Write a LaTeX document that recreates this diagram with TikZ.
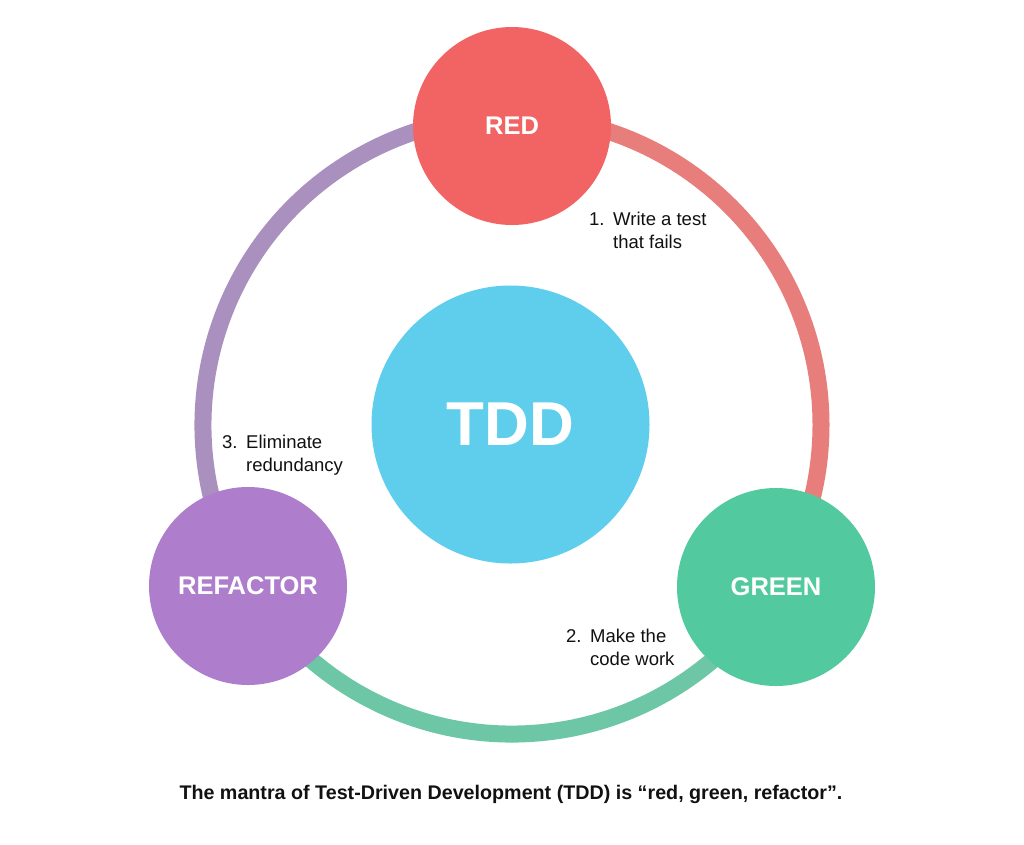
\documentclass[tikz,border=0pt]{standalone}
\usepackage{fontspec}
\setmainfont{Liberation Sans}
\usetikzlibrary{calc}
\definecolor{redfill}{HTML}{F26464}
\definecolor{redring}{HTML}{E87E7C}
\definecolor{greenfill}{HTML}{52C99E}
\definecolor{greenring}{HTML}{6DC7A6}
\definecolor{purplefill}{HTML}{AE7ECC}
\definecolor{purplering}{HTML}{A990BE}
\definecolor{cyanfill}{HTML}{5ECEEC}
\definecolor{txt}{HTML}{111111}
\tikzset{
  phase/.style={circle, minimum size=198pt, inner sep=0pt, text=white,
    font=\fontsize{25.5}{30}\selectfont\bfseries},
  core/.style={circle, minimum size=278pt, inner sep=0pt, fill=cyanfill, text=white,
    font=\fontsize{62}{70}\selectfont\bfseries},
  ring/.style={line width=17pt},
  steplabel/.style={anchor=base west, inner sep=0pt, text=txt,
    font=\fontsize{18.5}{23.5}\selectfont},
}
\newcommand{\numitem}[3]{\begin{tabular}[t]{@{}p{24pt}@{}l@{}}#1&#2\\&#3\end{tabular}}
\begin{document}
\begin{tikzpicture}[x=1pt,y=-1pt]
\useasboundingbox[fill=white] (0,0) rectangle (1024,844);
\coordinate (c) at (512,425);
% ring arcs
\draw[ring, redring] ($(c)+(0,-309)$) arc[start angle=90, end angle=-30, radius=309, y radius=-309];
\draw[ring, greenring] ($(c)+(267.6,154.5)$) arc[start angle=-30, end angle=-150, radius=309, y radius=-309];
\draw[ring, purplering] ($(c)+(-267.6,154.5)$) arc[start angle=210, end angle=90, radius=309, y radius=-309];
% circles
\node[phase, fill=redfill] (red) at (512,126) {RED};
\node[phase, fill=greenfill] (green) at (776,587) {GREEN};
\node[phase, fill=purplefill] (refactor) at (248,586) {REFACTOR};
\node[core] (tdd) at (510.5,424.5) {TDD};
% labels
\node[steplabel] (l1) at (589,225) {\numitem{1.}{Write a test}{that fails}};
\node[steplabel] (l2) at (566,642) {\numitem{2.}{Make the}{code work}};
\node[steplabel] (l3) at (222,448) {\numitem{3.}{Eliminate}{redundancy}};
% caption
\node[anchor=base, inner sep=0pt, text=txt, font=\fontsize{19.7}{23}\selectfont\bfseries] (cap) at (511,799)
  {The mantra of Test-Driven Development (TDD) is “red, green, refactor”.};
\end{tikzpicture}
\end{document}
